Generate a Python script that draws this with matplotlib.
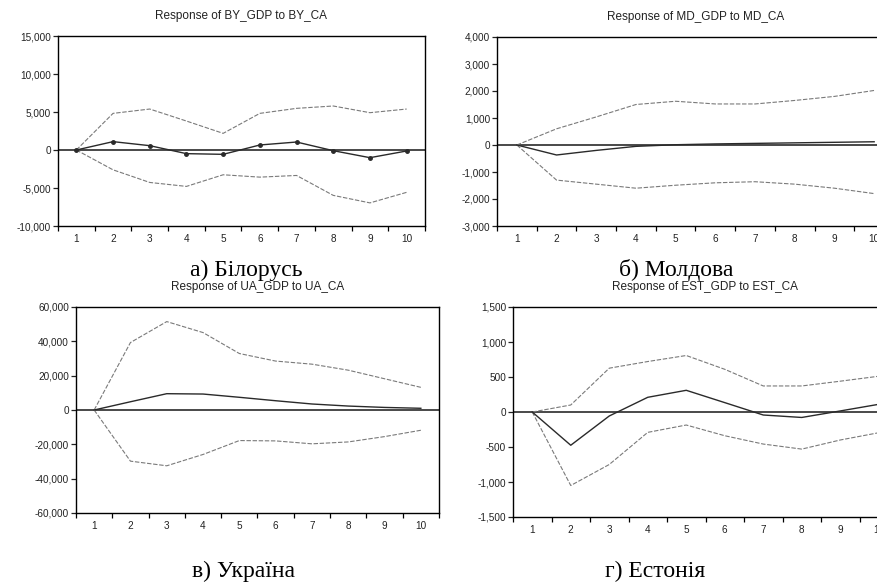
import numpy as np
import matplotlib.pyplot as plt
from matplotlib.ticker import FuncFormatter, FixedLocator

# impulse response horizons
periods = np.arange(1, 11)

# Belarus
by_resp = [0, 1100, 570, -480, -570, 660, 1050, -90, -1010, -130]
by_up = [0, 4820, 5390, 3810, 2190, 4820, 5480, 5790, 4910, 5390]
by_lo = [0, -2610, -4270, -4790, -3260, -3570, -3350, -5970, -6960, -5570]

# Moldova
md_resp = [0, -370, -200, -50, 10, 40, 60, 80, 100, 120]
md_up = [0, 600, 1040, 1500, 1620, 1520, 1520, 1650, 1800, 2020]
md_lo = [0, -1300, -1450, -1600, -1490, -1400, -1360, -1450, -1600, -1800]

# Ukraine
ua_resp = [0, 4800, 9500, 9300, 7400, 5400, 3500, 2300, 1500, 1000]
ua_up = [0, 39300, 51500, 45100, 32900, 28500, 26700, 23200, 18200, 13200]
ua_lo = [0, -29800, -32500, -25900, -17800, -18000, -19700, -18600, -15500, -11800]

# Estonia
est_resp = [0, -475, -57, 210, 310, 134, -43, -78, 15, 110]
est_up = [0, 100, 626, 721, 807, 610, 372, 372, 440, 511]
est_lo = [0, -1050, -750, -291, -186, -339, -458, -530, -400, -296]

W, H = 878, 582
fig = plt.figure(figsize=(W / 100, H / 100), dpi=100)


def px_axes(left, right, top, bottom):
    return fig.add_axes([left / W, 1 - bottom / H, (right - left) / W, (bottom - top) / H])


def draw_panel(box, resp, up, lo, ylim, ystep, title, caption, cap_xy, marker=None):
    ax = px_axes(*box)
    ax.axhline(0, color='#3a3a3a', lw=1.3, zorder=1)
    ax.plot(periods, up, color='#7a7a7a', lw=0.8, dashes=(4, 1.5))
    ax.plot(periods, lo, color='#7a7a7a', lw=0.8, dashes=(4, 1.5))
    ax.plot(periods, resp, color='#2a2a2a', lw=1.0, marker=marker, ms=2.5)
    ax.set_xlim(0.5, 10.5)
    ax.set_ylim(*ylim)
    ax.set_yticks(np.arange(ylim[0], ylim[1] + 1, ystep))
    ax.yaxis.set_major_formatter(FuncFormatter(lambda v, p: f'{int(v):,}'))
    ax.set_xticks(periods)
    ax.xaxis.set_minor_locator(FixedLocator(np.arange(0.5, 11, 1)))
    ax.tick_params(axis='x', which='major', length=0, pad=6, labelsize=7.2, colors='#222222')
    ax.tick_params(axis='x', which='minor', length=3.5, width=0.9, direction='out')
    ax.tick_params(axis='y', length=3.5, width=0.9, pad=1.5, labelsize=7.2, colors='#222222')
    for lab in ax.get_xticklabels() + ax.get_yticklabels():
        lab.set_fontfamily('Liberation Sans')
    for s in ax.spines.values():
        s.set_linewidth(1.0)
        s.set_color('black')
    ax.set_title(title, fontsize=8.5, family='Liberation Sans', color='#222222', pad=12)
    fig.text(cap_xy[0] / W, 1 - cap_xy[1] / H, caption, ha='center', va='baseline',
             fontsize=17, family='Liberation Serif', color='black')
    return ax


draw_panel((58, 425, 36, 226), by_resp, by_up, by_lo, (-10000, 15000), 5000,
           'Response of BY_GDP to BY_CA', 'а) Білорусь', (246, 276), marker='o')
draw_panel((497, 894, 37, 226), md_resp, md_up, md_lo, (-3000, 4000), 1000,
           'Response of MD_GDP to MD_CA', 'б) Молдова', (676, 276))
draw_panel((76, 439, 307, 513), ua_resp, ua_up, ua_lo, (-60000, 60000), 20000,
           'Response of UA_GDP to UA_CA', 'в) Україна', (244, 577))
draw_panel((513, 898, 307, 517), est_resp, est_up, est_lo, (-1500, 1500), 500,
           'Response of EST_GDP to EST_CA', 'г) Естонія', (655, 577))

fig.savefig('out.png', dpi=100)
